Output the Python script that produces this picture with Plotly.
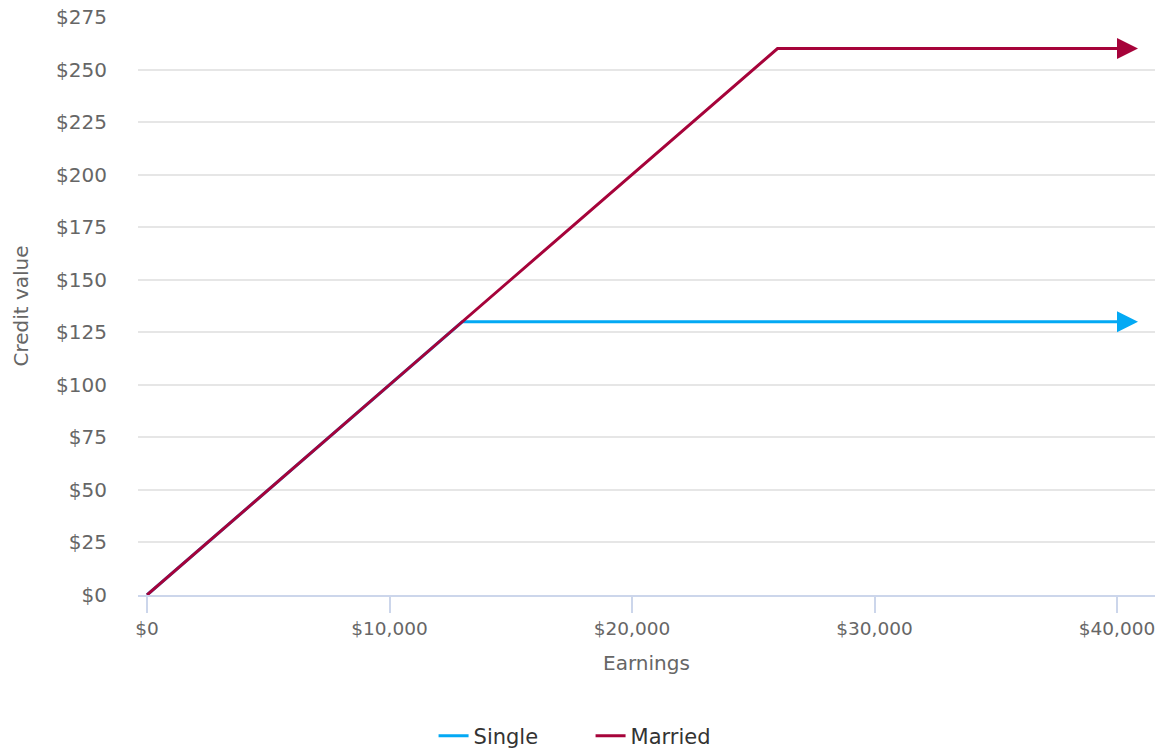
import plotly.graph_objects as go

# Data
single_earnings = [0, 13000, 40000]
single_credit = [0, 130, 130]
married_earnings = [0, 26000, 40000]
married_credit = [0, 260, 260]

series_names = ["Single", "Married"]
series_colors = ["#03a9f4", "#a6033a"]

x_tickvals = [0, 10000, 20000, 30000, 40000]
x_ticktext = ["$0", "$10,000", "$20,000", "$30,000", "$40,000"]

FONT = "DejaVu Sans"
TXT = "#666666"

fig = go.Figure()
for name, xs, ys, col in [
    (series_names[0], single_earnings, single_credit, series_colors[0]),
    (series_names[1], married_earnings, married_credit, series_colors[1]),
]:
    fig.add_trace(go.Scatter(x=xs, y=ys, mode="lines", name=name,
                             line=dict(color=col, width=3)))
    # arrowhead at the end of each line
    fig.add_annotation(x=xs[-1], y=ys[-1], xref="x", yref="y",
                       ax=-21, ay=0, axref="pixel", ayref="pixel",
                       text="", showarrow=True, arrowhead=2,
                       arrowsize=1.4, arrowwidth=3, arrowcolor=col,
                       xshift=21)

fig.update_layout(
    width=1157, height=751,
    margin=dict(l=138, r=2, t=17, b=156, autoexpand=False),
    plot_bgcolor="white", paper_bgcolor="white",
    font=dict(family=FONT, color=TXT, size=19),
    showlegend=True,
    legend=dict(orientation="h", x=0.445, xanchor="center",
                yref="container", y=0.02, yanchor="middle",
                font=dict(size=21, color="#333333"),
                entrywidth=112, entrywidthmode="pixels"),
    xaxis=dict(
        range=[-371, 41567],
        tickvals=x_tickvals, ticktext=x_ticktext,
        showgrid=False, zeroline=False, automargin=False,
        showline=True, linecolor="#ccd6eb", linewidth=1.5,
        ticks="outside", ticklen=16, tickcolor="#ccd6eb", tickwidth=1.5,
        tickfont=dict(size=18.5, color=TXT),
        title=dict(text="Earnings", font=dict(size=20, color=TXT), standoff=18),
    ),
    yaxis=dict(
        range=[0, 275],
        dtick=25, tick0=0,
        tickprefix="$",
        showgrid=True, gridcolor="#e6e6e6", gridwidth=1.5,
        zeroline=False, showline=False, automargin=False,
        ticklabelstandoff=30,
        tickfont=dict(size=20, color=TXT),
        title=dict(text="Credit value", font=dict(size=20, color=TXT), standoff=22),
    ),
)

fig.write_html("out.html")
